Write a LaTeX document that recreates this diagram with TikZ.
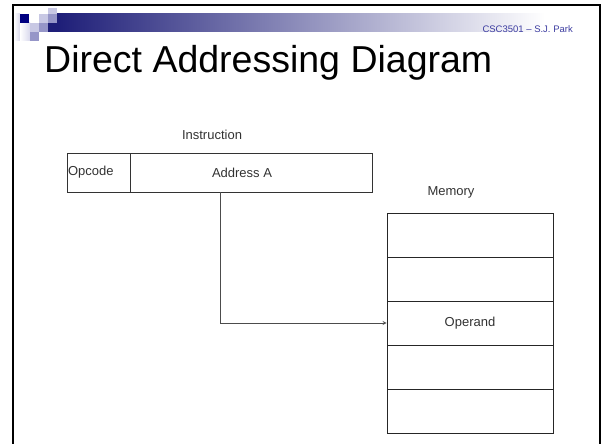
\documentclass[tikz,border=0pt]{standalone}
\usepackage{fontspec}
\setmainfont{Liberation Sans}
\usetikzlibrary{arrows}

\definecolor{slidenavy}{RGB}{0,0,128}
\definecolor{barnavy}{RGB}{30,30,120}
\definecolor{sqlight}{RGB}{200,200,228}
\definecolor{sqmid}{RGB}{150,150,200}
\definecolor{hdrblue}{RGB}{60,60,160}
\definecolor{boxtext}{RGB}{50,50,50}

\tikzset{
  field/.style={draw=black!80,line width=0.8pt,minimum height=39pt,inner sep=0pt,
    font=\fontsize{13}{15}\selectfont,text=boxtext},
  cell/.style={draw=black!85,line width=0.8pt,minimum width=166pt,minimum height=44pt,
    inner sep=0pt,font=\fontsize{13}{15}\selectfont,text=boxtext},
  caption/.style={inner sep=0pt,font=\fontsize{13}{15}\selectfont,text=boxtext}
}

\begin{document}
\begin{tikzpicture}[x=1pt,y=-1pt]
\useasboundingbox (0,0) rectangle (602,444);

% slide frame and corner squares
 \shade[left color=barnavy,right color=white] (57,14) rectangle (545,32);
 \shade[left color=white,right color=sqlight!70] (14,14) rectangle (20,41);
 \shade[left color=white,right color=sqlight!70] (20,23) rectangle (30,41);
 \fill[sqlight] (48,8) rectangle (57,14);
 \fill[slidenavy] (20,14) rectangle (29,23);
 \fill[sqlight] (39,14) rectangle (48,23);
 \fill[sqmid] (48,14) rectangle (57,23);
 \fill[sqlight] (30,23) rectangle (39,32);
 \fill[sqmid] (39,23) rectangle (48,32);
 \fill[barnavy] (48,23) rectangle (57,32);
 \fill[sqmid] (30,32) rectangle (39,41);
 \draw[line width=2pt] (13,444)--(13,5)--(600,5)--(600,444);

 \node[anchor=base east,inner sep=0pt,font=\fontsize{9.5}{11}\selectfont,text=hdrblue] (header) at (573,32.5) {CSC3501 – S.J. Park};
 \node[anchor=base west,inner sep=0pt,font=\fontsize{37.5}{42}\selectfont] (title) at (44,73) {Direct Addressing Diagram};

% instruction
 \node[caption] (instrlabel) at (212,135) {Instruction};
 \node[field,text width=61pt,inner xsep=1pt,align=left] (opcode) at (98.5,172.5) {Opcode};
 \node[field,minimum width=242pt] (addr) at (251,172.5) {Address A\hspace*{18pt}};

% memory
 \node[caption] (memlabel) at (451,192) {Memory};
 \foreach \i/\txt in {0/{},1/{},2/Operand,3/{},4/{}}
   \node[cell] (mem\i) at (470,{235+44*\i}) {\txt};

 \draw[line width=0.8pt,draw=black!70,-stealth] ([xshift=-31pt]addr.south) |- (mem2.west);

\end{tikzpicture}
\end{document}
